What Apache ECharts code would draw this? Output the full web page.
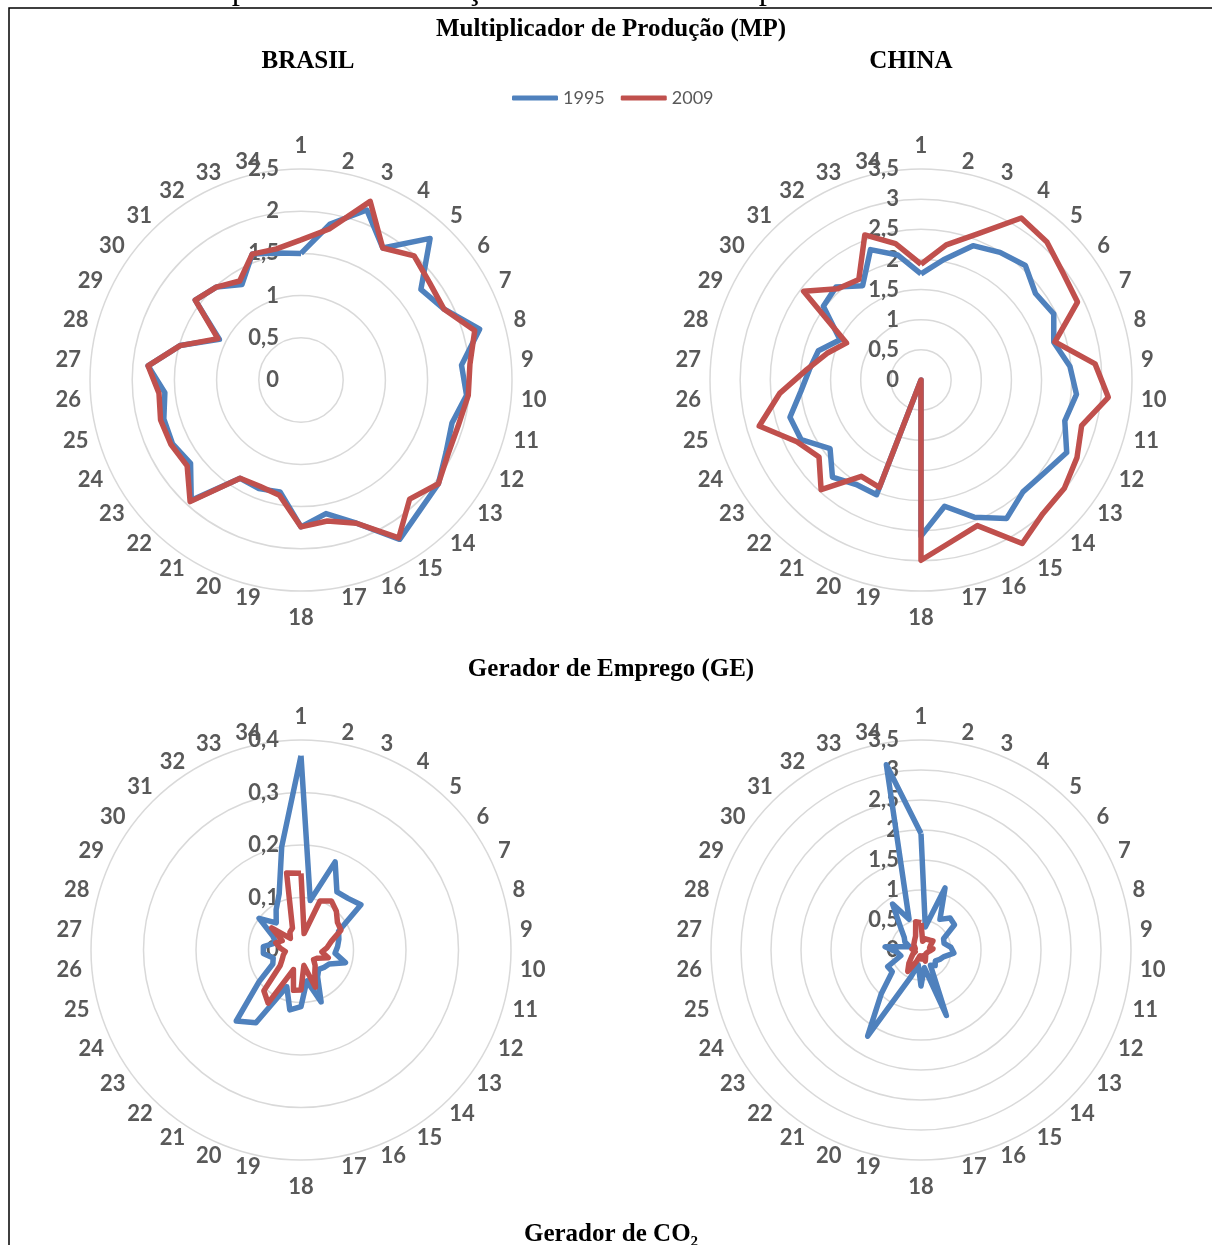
<!DOCTYPE html>
<html>
<head>
<meta charset="utf-8">
<script src="https://cdn.jsdelivr.net/npm/echarts@6/dist/echarts.min.js"></script>
<style>
html, body { margin: 0; padding: 0; background: #fff; }
#chart { width: 1212px; height: 1245px; }
</style>
</head>
<body>
<div id="chart"></div>
<script>
// setores 1..34
const sectors = ['1', '2', '3', '4', '5', '6', '7', '8', '9', '10', '11', '12', '13', '14', '15', '16', '17',
    '18', '19', '20', '21', '22', '23', '24', '25', '26', '27', '28', '29', '30', '31', '32', '33', '34'];
const years = ['1995', '2009'];

// Multiplicador de Produção (MP)
const brasilMP1995 = [1.50, 1.88, 2.16, 1.84, 2.27, 1.78, 1.89, 2.20, 1.91, 1.97, 1.86, 1.92, 2.04, 2.09, 2.22, 1.82, 1.61,
    1.74, 1.35, 1.38, 1.37, 1.93, 1.64, 1.70, 1.69, 1.62, 1.82, 1.49, 1.08, 1.57, 1.49, 1.33, 1.60, 1.53];
const brasilMP2009 = [1.66, 1.82, 2.27, 1.84, 1.99, 1.91, 1.89, 2.14, 2.01, 1.99, 1.94, 1.95, 2.04, 1.91, 2.20, 1.82, 1.70,
    1.74, 1.39, 1.35, 1.37, 1.95, 1.69, 1.72, 1.73, 1.69, 1.82, 1.49, 1.10, 1.57, 1.49, 1.38, 1.60, 1.58];
const chinaMP1995 = [1.76, 2.03, 2.39, 2.49, 2.57, 2.38, 2.46, 2.29, 2.48, 2.59, 2.48, 2.70, 2.56, 2.51, 2.70, 2.44, 2.13,
    2.59, 0, 2.04, 2.04, 2.18, 1.89, 2.22, 2.26, 2.00, 1.86, 1.77, 1.50, 2.03, 2.09, 1.84, 2.32, 2.11];
const chinaMP2009 = [1.92, 2.28, 2.60, 3.16, 3.10, 2.95, 2.90, 2.31, 2.90, 3.12, 2.77, 2.89, 2.98, 3.00, 3.19, 2.59, 2.73,
    2.99, 0, 1.91, 1.88, 2.46, 2.12, 2.30, 2.79, 2.35, 1.90, 1.62, 1.38, 2.44, 2.05, 1.96, 2.58, 2.30];

// Gerador de Emprego (GE)
const brasilGE1995 = [0.37, 0.096, 0.18, 0.13, 0.133, 0.143, 0.08, 0.075, 0.07, 0.065, 0.088, 0.06, 0.055, 0.05, 0.06, 0.106, 0.06,
    0.108, 0.116, 0.075, 0.163, 0.183, 0.10, 0.06, 0.055, 0.072, 0.072, 0.05, 0.06, 0.10, 0.07, 0.09, 0.115, 0.20];
const brasilGE2009 = [0.146, 0.032, 0.10, 0.11, 0.10, 0.087, 0.085, 0.06, 0.05, 0.04, 0.054, 0.035, 0.03, 0.04, 0.05, 0.076, 0.03,
    0.076, 0.078, 0.04, 0.119, 0.105, 0.05, 0.04, 0.035, 0.03, 0.04, 0.05, 0.04, 0.07, 0.03, 0.04, 0.045, 0.149];
const chinaGE1995 = [1.94, 0.39, 1.11, 0.60, 0.72, 0.70, 0.42, 0.40, 0.50, 0.55, 0.40, 0.35, 0.30, 0.35, 0.30, 1.17, 0.30,
    0.60, 0.25, 0.50, 1.69, 0.98, 0.60, 0.62, 0.35, 0.40, 0.60, 0.20, 0.30, 0.35, 0.50, 0.90, 0.55, 3.14];
const chinaGE2009 = [0.45, 0.15, 0.20, 0.20, 0.22, 0.25, 0.18, 0.15, 0.20, 0.15, 0.12, 0.10, 0.10, 0.12, 0.10, 0.20, 0.10,
    0.15, 0.10, 0.20, 0.42, 0.30, 0.20, 0.15, 0.10, 0.10, 0.15, 0.10, 0.10, 0.15, 0.15, 0.20, 0.25, 0.48];

// escalas radiais: [max, intervalo]
const scaleBrasilMP = [2.5, 0.5];
const scaleChinaMP = [3.5, 0.5];
const scaleBrasilGE = [0.4, 0.1];
const scaleChinaGE = [3.5, 0.5];

const blue = '#4f81bd';
const red = '#c0504d';
const gray = '#595959';

const closeLoop = values => {
    // volta ao primeiro setor (posição 34 = 360 graus) para fechar o radar
    const pts = values.map((v, i) => [v, i]);
    pts.push([values[0], values.length]);
    return pts;
};

// lineHeight pequeno => o texto fica centrado no ponto de ancoragem
const labelFont = { color: gray, fontFamily: 'Lato', fontWeight: 'bold', fontSize: 22, lineHeight: 2 };
const rich = padding => Object.assign({ padding: padding }, labelFont);

// ajustes finos de posição dos rótulos, imitando o Excel
const sectorLabel = v => {
    const s = sectors[v];
    if (s === undefined) return '';
    if (s === '1') return '{up|1}';
    if (s === '18') return '{down|18}';
    if (s === '2') return '{l1|2}';
    if (s === '17') return '{l2|17}';
    if (s === '34' || s === '19') return '{r2|' + s + '}';
    return s;
};

const angleAxis = idx => ({
    polarIndex: idx,
    type: 'value',
    min: 0,
    max: sectors.length,
    interval: 1,
    startAngle: 90,
    clockwise: true,
    axisLine: { show: false },
    axisTick: { show: false },
    splitLine: { show: false },
    axisLabel: Object.assign({
        margin: 10,
        formatter: sectorLabel,
        rich: {
            up: rich([0, 0, 24, 0]),
            down: rich([32, 0, 0, 0]),
            l1: rich([0, 0, 0, 13]),
            l2: rich([0, 0, 0, 25]),
            r2: rich([0, 25, 0, 0])
        }
    }, labelFont)
});

const radiusAxis = (idx, scale) => ({
    polarIndex: idx,
    type: 'value',
    min: 0,
    max: scale[0],
    interval: scale[1],
    axisLine: { show: false },
    axisTick: { show: false },
    splitLine: { show: true, lineStyle: { color: '#d9d9d9', width: 1.5 } },
    axisLabel: {
        margin: 22,
        color: gray,
        fontFamily: 'Lato',
        fontWeight: 'bold',
        fontSize: 22,
        showMinLabel: true,
        showMaxLabel: true,
        formatter: v => String(+v.toFixed(2)).replace('.', ',')
    }
});

const line = (name, color, idx, values) => ({
    type: 'line',
    name: name,
    coordinateSystem: 'polar',
    polarIndex: idx,
    data: closeLoop(values),
    symbol: 'none',
    showSymbol: false,
    clip: false,
    silent: true,
    lineStyle: { color: color, width: 5.5, join: 'round' },
    itemStyle: { color: color }
});

const serifTitle = (text, x, y) => ({
    type: 'text',
    x: x,
    y: y,
    style: {
        text: text,
        fill: '#000',
        font: 'bold 25px "Liberation Serif", "Times New Roman", serif',
        textAlign: 'center',
        textVerticalAlign: 'middle'
    }
});

const chart = echarts.init(document.getElementById('chart'));

const option = {
    backgroundColor: '#fff',
    animation: false,
    legend: {
        top: 84,
        left: 507,
        data: years,
        icon: 'roundRect',
        itemWidth: 46,
        itemHeight: 5,
        itemGap: 16,
        textStyle: { color: gray, fontFamily: 'Lato', fontSize: 18 }
    },
    polar: [
        { center: [301, 380], radius: 211 },
        { center: [921, 380], radius: 211 },
        { center: [301, 950], radius: 210 },
        { center: [921, 950], radius: 210 }
    ],
    angleAxis: [angleAxis(0), angleAxis(1), angleAxis(2), angleAxis(3)],
    radiusAxis: [
        radiusAxis(0, scaleBrasilMP),
        radiusAxis(1, scaleChinaMP),
        radiusAxis(2, scaleBrasilGE),
        radiusAxis(3, scaleChinaGE)
    ],
    series: [
        line('1995', blue, 0, brasilMP1995),
        line('2009', red, 0, brasilMP2009),
        line('1995', blue, 1, chinaMP1995),
        line('2009', red, 1, chinaMP2009),
        line('1995', blue, 2, brasilGE1995),
        line('2009', red, 2, brasilGE2009),
        line('1995', blue, 3, chinaGE1995),
        line('2009', red, 3, chinaGE2009)
    ],
    graphic: [
        {
            // legenda do gráfico, cortada no topo da página
            type: 'text',
            x: 0,
            y: 7,
            z: -20,
            style: {
                text: 'Gráfico 1 – Multiplicador de Produção do Brasil e China para os anos de 1995 e 2009',
                fill: '#000',
                font: '33px "Liberation Serif", "Times New Roman", serif',
                textAlign: 'left',
                textVerticalAlign: 'bottom'
            }
        },
        {
            type: 'rect',
            shape: { x: 9, y: 8, width: 1400, height: 1400 },
            style: { fill: '#fff', stroke: '#000', lineWidth: 1.5 },
            z: -10
        },
        serifTitle('Multiplicador de Produção (MP)', 611, 30),
        serifTitle('BRASIL', 308, 62),
        serifTitle('CHINA', 911, 62),
        serifTitle('Gerador de Emprego (GE)', 611, 670),
        serifTitle('Gerador de CO₂', 611, 1235)
    ]
};

chart.setOption(option);
</script>
</body>
</html>
